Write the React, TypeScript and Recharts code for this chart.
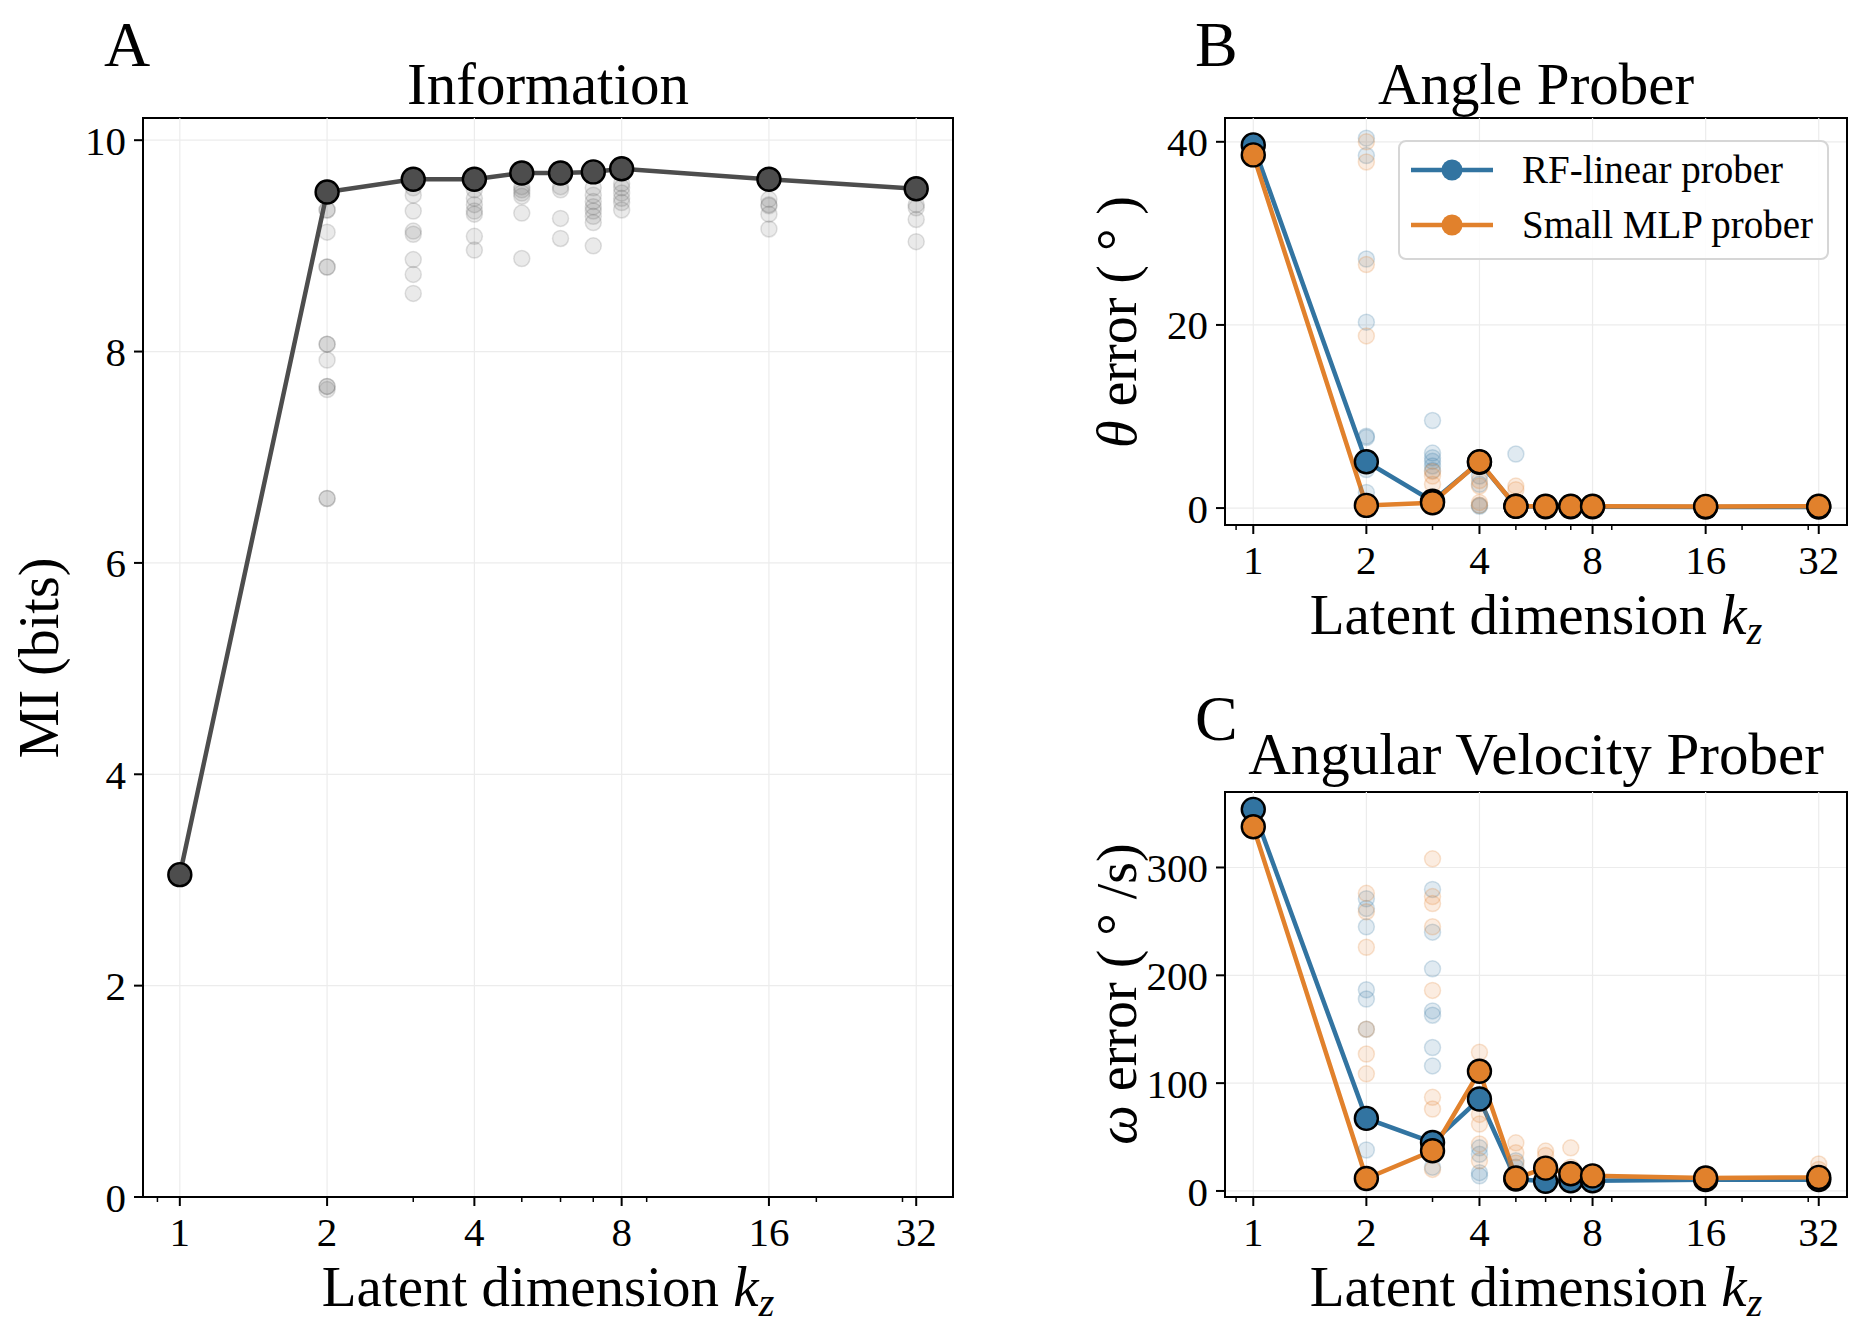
import {
  ComposedChart,
  Line,
  Scatter,
  XAxis,
  YAxis,
  CartesianGrid,
  ReferenceLine,
  ReferenceArea,
  Legend,
} from 'recharts'

const FONT = '"Liberation Serif", "DejaVu Serif", "Times New Roman", serif'
const GRAY = '#4d4d4d'
const BLUE = '#3274a1'
const ORANGE = '#e1812c'
const GRID = '#ececec'

// shared log2 x axis
const kz = [1, 2, 3, 4, 5, 6, 7, 8, 16, 32]
const majorTicks = [1, 2, 4, 8, 16, 32]
const minorTicks = [0.9, 3, 5, 6, 7, 9, 20, 30]
const xDomain: [number, number] = [0.8409, 38.05]

// A: information
const miMean = [3.05, 9.51, 9.63, 9.63, 9.69, 9.69, 9.7, 9.73, 9.63, 9.54]
const miRuns = [
  [3.05],
  [9.34, 9.13, 8.8, 8.07, 7.92, 7.67, 7.64, 6.61, 9.34, 8.8, 8.07, 7.67, 6.61],
  [9.55, 9.48, 9.33, 9.14, 9.11, 8.87, 8.73, 8.55],
  [9.53, 9.45, 9.39, 9.33, 9.3, 9.09, 8.96],
  [9.56, 9.53, 9.5, 9.47, 9.31, 8.88],
  [9.56, 9.53, 9.26, 9.07],
  [9.55, 9.48, 9.42, 9.37, 9.33, 9.28, 9.22, 9.0],
  [9.59, 9.55, 9.5, 9.45, 9.41, 9.34],
  [9.44, 9.39, 9.38, 9.3, 9.16],
  [9.39, 9.36, 9.25, 9.04],
]
const miTicks = [0, 2, 4, 6, 8, 10]
const miDomain: [number, number] = [0, 10.21]

// B: angle prober
const angleLinear = [39.66, 5.06, 0.75, 5.0, 0.2, 0.15, 0.15, 0.15, 0.12, 0.12]
const angleMlp = [38.57, 0.29, 0.58, 5.06, 0.2, 0.2, 0.2, 0.2, 0.18, 0.2]
const angleLinearRuns = [
  [39.7],
  [40.4, 38.5, 27.2, 20.3, 7.85, 7.7, 4.2, 1.7],
  [9.56, 6.0, 5.5, 5.1, 4.6, 4.1],
  [4.6, 3.5, 2.6, 0.3, 0.2],
  [5.9, 0.2],
  [0.2],
  [0.2],
  [0.2],
  [0.2],
  [0.2],
]
const angleMlpRuns = [
  [38.6],
  [40.0, 37.8, 26.6, 18.8, 0.3],
  [4.0, 3.5, 2.6, 0.5],
  [3.0, 2.4, 0.6, 0.3],
  [2.4, 2.0],
  [0.4],
  [0.3],
  [0.3],
  [0.2],
  [0.2],
]
const angleTicks = [0, 20, 40]
const angleDomain: [number, number] = [-1.85, 42.6]

// C: angular velocity prober
const velLinear = [353.9, 67.3, 45.0, 85.3, 11, 9, 9.5, 9.5, 10.5, 10.5]
const velMlp = [337.8, 11.5, 37.3, 111, 12, 21.2, 16, 14, 12, 12.6]
const velLinearRuns = [
  [353],
  [271, 262, 245, 186.6, 178, 150, 38],
  [279.6, 240, 206, 167, 163, 133, 116, 22],
  [82, 40, 34, 17, 14],
  [28, 22],
  [8],
  [10],
  [10],
  [11],
  [11],
]
const velMlpRuns = [
  [338],
  [276, 259, 226, 150, 127, 108.6],
  [308, 273, 266.5, 245, 186, 86.8, 76, 20],
  [128.6, 83, 71, 62, 43.5, 28],
  [44.6, 35.4, 26],
  [37, 33],
  [40, 22],
  [15],
  [13],
  [25, 20],
]
const velTicks = [0, 100, 200, 300]
const velDomain: [number, number] = [-5.6, 370]

const legendItems = [
  { label: 'RF-linear prober', color: BLUE },
  { label: 'Small MLP prober', color: ORANGE },
]

const toPoints = (ys: number[]) => ys.map((y, i) => ({ x: kz[i], y }))
const toRunPoints = (runs: number[][]) =>
  runs.flatMap((vals, i) => vals.map(y => ({ x: kz[i], y })))

function LogTick(props: any) {
  const { x, y, payload } = props
  const major = majorTicks.includes(payload.value)
  return (
    <g>
      <line
        x1={x}
        x2={x}
        y1={y}
        y2={y + (major ? 9 : 5)}
        stroke="#000"
        strokeWidth={major ? 2 : 1.5}
      />
      {major && (
        <text x={x} y={y + 49} textAnchor="middle" fontSize={41} fontFamily={FONT} fill="#000">
          {payload.value}
        </text>
      )}
    </g>
  )
}

const faintDot = (color: string, opacity: number) => (p: any) => (
  <circle
    cx={p.cx}
    cy={p.cy}
    r={8}
    fill={color}
    fillOpacity={opacity}
    stroke={color}
    strokeOpacity={opacity * 1.4}
    strokeWidth={1.5}
  />
)

const mainDot = (color: string) => ({
  r: 11.5,
  fill: color,
  fillOpacity: 1,
  stroke: '#000',
  strokeWidth: 2.4,
})

function axes(yDomain: [number, number], yTicks: number[]) {
  return [
    <CartesianGrid key="grid" vertical={false} stroke={GRID} strokeWidth={1.2} />,
    ...majorTicks.map(t => (
      <ReferenceLine key={`v${t}`} x={t} stroke={GRID} strokeWidth={1.2} />
    )),
    <XAxis
      key="x"
      type="number"
      dataKey="x"
      scale="log"
      domain={xDomain}
      allowDataOverflow
      ticks={[...majorTicks, ...minorTicks]}
      interval={0}
      tick={(p: any) => <LogTick {...p} />}
      tickLine={false}
      tickSize={0}
      tickMargin={0}
      axisLine={{ stroke: '#000', strokeWidth: 2 }}
      height={60}
    />,
    <YAxis
      key="y"
      type="number"
      dataKey="y"
      domain={yDomain}
      allowDataOverflow
      ticks={yTicks}
      interval={0}
      tick={{ fontSize: 41, fill: '#000', fontFamily: FONT }}
      tickLine={{ stroke: '#000', strokeWidth: 2 }}
      tickSize={9}
      tickMargin={8}
      axisLine={{ stroke: '#000', strokeWidth: 2 }}
      width={80}
    />,
  ]
}

const box = (yDomain: [number, number]) => (
  <ReferenceArea
    x1={xDomain[0]}
    x2={xDomain[1]}
    y1={yDomain[0]}
    y2={yDomain[1]}
    fill="none"
    stroke="#000"
    strokeWidth={2}
    ifOverflow="visible"
  />
)

function ProberLegend() {
  return (
    <div
      style={{
        position: 'relative',
        width: 431,
        height: 120,
        boxSizing: 'border-box',
        border: '2.5px solid #d6d6d6',
        borderRadius: 8,
        background: 'rgba(255,255,255,0.85)',
        fontFamily: FONT,
        fontSize: 39,
      }}
    >
      {legendItems.map((item, i) => (
        <div
          key={item.label}
          style={{
            position: 'absolute',
            left: 10,
            top: 3 + i * 55,
            height: 50,
            display: 'flex',
            alignItems: 'center',
            whiteSpace: 'nowrap',
          }}
        >
          <svg width={84} height={30}>
            <line x1={1} x2={83} y1={15} y2={15} stroke={item.color} strokeWidth={4.5} />
            <circle cx={42} cy={15} r={10.5} fill={item.color} />
          </svg>
          <span style={{ marginLeft: 28, lineHeight: '50px' }}>{item.label}</span>
        </div>
      ))}
    </div>
  )
}

export default function App() {
  return (
    <div
      style={{
        position: 'absolute',
        left: 0,
        top: 0,
        width: 1868,
        height: 1338,
        background: '#fff',
        overflow: 'hidden',
      }}
    >
      {/* A */}
      <div style={{ position: 'absolute', left: 0, top: 0 }}>
        <ComposedChart
          width={980}
          height={1338}
          margin={{ top: 118, left: 63, right: 27, bottom: 81 }}
        >
          {axes(miDomain, miTicks)}
          <Scatter
            data={toRunPoints(miRuns)}
            dataKey="y"
            shape={faintDot('#5a5a5a', 0.13)}
            isAnimationActive={false}
          />
          <Line
            data={toPoints(miMean)}
            dataKey="y"
            type="linear"
            stroke={GRAY}
            strokeWidth={4.5}
            dot={mainDot(GRAY)}
            activeDot={false}
            isAnimationActive={false}
          />
          {box(miDomain)}
        </ComposedChart>
      </div>

      {/* B */}
      <div style={{ position: 'absolute', left: 1100, top: 0 }}>
        <ComposedChart
          width={768}
          height={640}
          margin={{ top: 118, left: 45, right: 21, bottom: 55 }}
        >
          {axes(angleDomain, angleTicks)}
          <Scatter
            data={toRunPoints(angleLinearRuns)}
            dataKey="y"
            shape={faintDot(BLUE, 0.15)}
            isAnimationActive={false}
          />
          <Scatter
            data={toRunPoints(angleMlpRuns)}
            dataKey="y"
            shape={faintDot(ORANGE, 0.15)}
            isAnimationActive={false}
          />
          <Line
            data={toPoints(angleLinear)}
            dataKey="y"
            type="linear"
            stroke={BLUE}
            strokeWidth={4.5}
            dot={mainDot(BLUE)}
            activeDot={false}
            isAnimationActive={false}
          />
          <Line
            data={toPoints(angleMlp)}
            dataKey="y"
            type="linear"
            stroke={ORANGE}
            strokeWidth={4.5}
            dot={mainDot(ORANGE)}
            activeDot={false}
            isAnimationActive={false}
          />
          {box(angleDomain)}
          <Legend
            layout="vertical"
            align="center"
            verticalAlign="middle"
            wrapperStyle={{ left: 298, top: 140, width: 431, height: 120 }}
            content={() => <ProberLegend />}
          />
        </ComposedChart>
      </div>

      {/* C */}
      <div style={{ position: 'absolute', left: 1100, top: 660 }}>
        <ComposedChart
          width={768}
          height={640}
          margin={{ top: 132, left: 45, right: 21, bottom: 43 }}
        >
          {axes(velDomain, velTicks)}
          <Scatter
            data={toRunPoints(velLinearRuns)}
            dataKey="y"
            shape={faintDot(BLUE, 0.15)}
            isAnimationActive={false}
          />
          <Scatter
            data={toRunPoints(velMlpRuns)}
            dataKey="y"
            shape={faintDot(ORANGE, 0.15)}
            isAnimationActive={false}
          />
          <Line
            data={toPoints(velLinear)}
            dataKey="y"
            type="linear"
            stroke={BLUE}
            strokeWidth={4.5}
            dot={mainDot(BLUE)}
            activeDot={false}
            isAnimationActive={false}
          />
          <Line
            data={toPoints(velMlp)}
            dataKey="y"
            type="linear"
            stroke={ORANGE}
            strokeWidth={4.5}
            dot={mainDot(ORANGE)}
            activeDot={false}
            isAnimationActive={false}
          />
          {box(velDomain)}
        </ComposedChart>
      </div>

      {/* panel letters, titles, axis labels */}
      <svg
        width={1868}
        height={1338}
        style={{ position: 'absolute', left: 0, top: 0, pointerEvents: 'none' }}
        fontFamily={FONT}
        fill="#000"
      >
        <text x={104} y={66} fontSize={64}>A</text>
        <text x={1195} y={66} fontSize={64}>B</text>
        <text x={1195} y={740} fontSize={64}>C</text>

        <text x={548} y={104} fontSize={59} textAnchor="middle">Information</text>
        <text x={1536} y={104} fontSize={59} textAnchor="middle">Angle Prober</text>
        <text x={1536} y={774} fontSize={59} textAnchor="middle">Angular Velocity Prober</text>

        {[
          { x: 548, y: 1306 },
          { x: 1536, y: 634 },
          { x: 1536, y: 1306 },
        ].map(p => (
          <text key={`${p.x}-${p.y}`} x={p.x} y={p.y} fontSize={57} textAnchor="middle">
            Latent dimension <tspan fontStyle="italic">k</tspan>
            <tspan fontStyle="italic" fontSize={40} dy={10}>z</tspan>
          </text>
        ))}

        <text transform="translate(58, 658) rotate(-90)" fontSize={56} textAnchor="middle">
          MI (bits)
        </text>
        <text transform="translate(1136, 322) rotate(-90)" fontSize={56} textAnchor="middle">
          <tspan fontStyle="italic">θ</tspan> error ( ° )
        </text>
        <text transform="translate(1136, 994) rotate(-90)" fontSize={56} textAnchor="middle">
          <tspan fontStyle="italic">ω</tspan> error ( ° /s)
        </text>
      </svg>
    </div>
  )
}
